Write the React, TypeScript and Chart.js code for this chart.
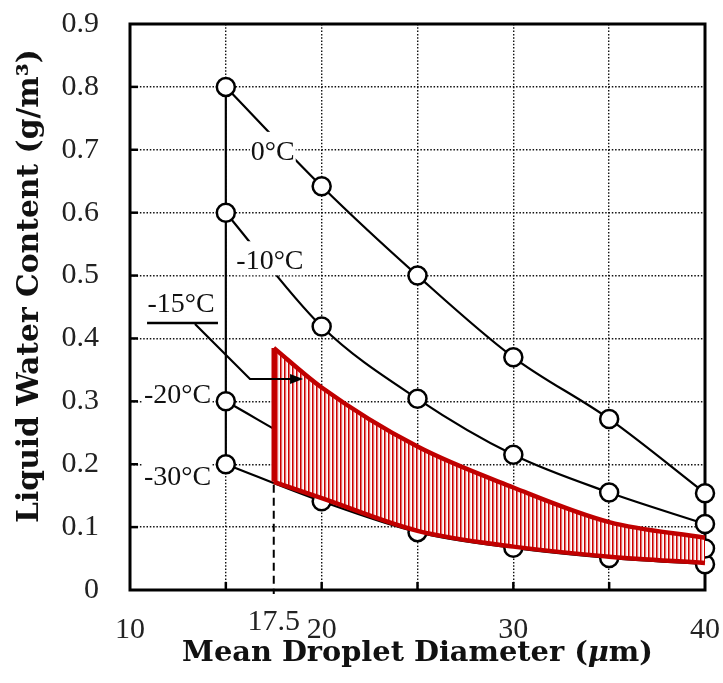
import React, { useEffect, useRef } from 'react';
import { Chart, registerables } from 'chart.js';

Chart.register(...registerables);

// ---- data ----
const diameters = [15, 20, 25, 30, 35, 40];
const lwc0C = [0.8, 0.642, 0.5, 0.37, 0.272, 0.154];
const lwcM10C = [0.6, 0.419, 0.304, 0.215, 0.155, 0.105];
const lwcM20C = [0.3, 0.215, 0.15, 0.108, 0.082, 0.066];
const lwcM30C = [0.2, 0.141, 0.092, 0.067, 0.051, 0.041];

const bandDiameters = [17.5, 20, 25, 30, 35, 40];
const bandUpper = [0.385, 0.322, 0.228, 0.163, 0.108, 0.083];
const bandLower = [0.172, 0.146, 0.094, 0.069, 0.053, 0.043];

const minDiameterMark = 17.5;
const seriesLabels = ['0°C', '-10°C', '-15°C', '-20°C', '-30°C'];
const xTitleParts = ['Mean Droplet Diameter (', 'μ', 'm)'];
const yTitle = 'Liquid Water Content (g/m³)';

const SERIF = "'Liberation Serif', 'Times New Roman', serif";
const BOLD_SERIF = "'DejaVu Serif', serif";
const RED = '#c00000';

const pts = (xs: number[], ys: number[]) => xs.map((x, i) => ({ x, y: ys[i] }));

function makeHatch(): CanvasPattern | string {
  const c = document.createElement('canvas');
  c.width = 4;
  c.height = 4;
  const g = c.getContext('2d');
  if (!g) return 'rgba(200,0,0,0.5)';
  g.fillStyle = '#ffffff';
  g.fillRect(0, 0, 4, 4);
  g.fillStyle = '#cc0000';
  g.fillRect(0, 0, 1, 4);
  g.fillStyle = '#e36b6b';
  g.fillRect(1, 0, 1, 4);
  g.fillStyle = '#f8dada';
  g.fillRect(2, 0, 1, 4);
  return g.createPattern(c, 'repeat') || 'rgba(200,0,0,0.5)';
}

function boxedText(ctx: CanvasRenderingContext2D, text: string, cx: number, base: number, padTop: number, padBottom: number) {
  const w = ctx.measureText(text).width;
  ctx.fillStyle = '#ffffff';
  ctx.fillRect(cx - w / 2 - 1, base - padTop, w + 2, padTop + padBottom);
  ctx.fillStyle = '#111111';
  ctx.fillText(text, cx, base);
}

const zeroPadding = (s: any) => {
  s.paddingTop = 0;
  s.paddingBottom = 0;
  s.paddingLeft = 0;
  s.paddingRight = 0;
};

const decorPlugin = {
  id: 'decor',
  beforeDatasetsDraw(chart: any) {
    const { ctx, chartArea: a, scales } = chart;
    const x = scales.x;
    const y = scales.y;
    ctx.save();
    ctx.strokeStyle = '#000';
    ctx.lineWidth = 2.5;
    x.ticks.forEach((t: any) => {
      if (t.value <= x.min || t.value >= x.max) return;
      const px = x.getPixelForValue(t.value);
      ctx.beginPath();
      ctx.moveTo(px, a.bottom);
      ctx.lineTo(px, a.bottom - 8);
      ctx.stroke();
    });
    y.ticks.forEach((t: any) => {
      if (t.value <= y.min + 1e-9 || t.value >= y.max - 1e-9) return;
      const py = y.getPixelForValue(t.value);
      ctx.beginPath();
      ctx.moveTo(a.left, py);
      ctx.lineTo(a.left + 8, py);
      ctx.stroke();
    });
    ctx.lineWidth = 3;
    ctx.strokeRect(a.left, a.top, a.right - a.left, a.bottom - a.top);
    ctx.restore();
  },
  afterDatasetsDraw(chart: any) {
    const { ctx, chartArea: a, scales } = chart;
    const x = scales.x;
    const y = scales.y;
    const X = (v: number) => x.getPixelForValue(v);
    const Y = (v: number) => y.getPixelForValue(v);
    ctx.save();

    // dashed marker at minimum diameter
    ctx.strokeStyle = '#000';
    ctx.lineWidth = 2;
    ctx.setLineDash([8, 5]);
    ctx.beginPath();
    ctx.moveTo(X(minDiameterMark), Y(bandLower[0]) + 3);
    ctx.lineTo(X(minDiameterMark), a.bottom + 4);
    ctx.stroke();
    ctx.setLineDash([]);

    // extra tick label 17.5
    ctx.font = `30px ${SERIF}`;
    ctx.textAlign = 'center';
    ctx.textBaseline = 'alphabetic';
    ctx.fillStyle = '#222';
    ctx.fillText(String(minDiameterMark), X(minDiameterMark), a.bottom + 40);

    // temperature labels
    ctx.font = `28px ${SERIF}`;
    boxedText(ctx, seriesLabels[0], X(17.45), Y(0.684), 28, 7);
    boxedText(ctx, seriesLabels[1], X(17.3), Y(0.51), 28, 6);
    boxedText(ctx, seriesLabels[2], X(12.66), Y(0.442), 22, 3);
    boxedText(ctx, seriesLabels[3], X(12.48), Y(0.298), 22, 4);
    boxedText(ctx, seriesLabels[4], X(12.48), Y(0.167), 22, 4);

    // -15°C underline, leader and arrow
    ctx.strokeStyle = '#000';
    ctx.fillStyle = '#000';
    ctx.lineWidth = 2.5;
    ctx.beginPath();
    ctx.moveTo(X(10.89), Y(0.4245));
    ctx.lineTo(X(14.59), Y(0.4245));
    ctx.stroke();
    ctx.lineWidth = 2.2;
    const ax = X(19.03);
    const ay = Y(0.3355);
    ctx.beginPath();
    ctx.moveTo(X(13.39), Y(0.423));
    ctx.lineTo(X(16.26), ay);
    ctx.lineTo(ax - 10, ay);
    ctx.stroke();
    ctx.beginPath();
    ctx.moveTo(ax, ay);
    ctx.lineTo(ax - 13, ay - 5);
    ctx.lineTo(ax - 13, ay + 5);
    ctx.closePath();
    ctx.fill();

    // axis titles
    ctx.fillStyle = '#111';
    const fontFor = (size: number, italic = false) => `${italic ? 'italic ' : ''}bold ${size}px ${BOLD_SERIF}`;
    const measureParts = (size: number) => xTitleParts.map((p, i) => {
      ctx.font = fontFor(size, i === 1);
      return ctx.measureText(p).width;
    });
    const base = 20;
    const w0 = measureParts(base).reduce((s, v) => s + v, 0);
    const xs = base * 471 / w0;
    const widths = measureParts(xs);
    const total = widths.reduce((s, v) => s + v, 0);
    let cx = 417.5 - total / 2;
    ctx.textAlign = 'left';
    ctx.textBaseline = 'alphabetic';
    xTitleParts.forEach((p, i) => {
      ctx.font = fontFor(xs, i === 1);
      ctx.fillText(p, cx, 661);
      cx += widths[i];
    });

    ctx.font = fontFor(base);
    const wy = ctx.measureText(yTitle).width;
    const ys = base * 474 / wy;
    ctx.font = fontFor(ys);
    ctx.translate(37.5, 286);
    ctx.rotate(-Math.PI / 2);
    ctx.textAlign = 'center';
    ctx.fillText(yTitle, 0, 0);

    ctx.restore();
  },
};

export default function App() {
  const ref = useRef<HTMLCanvasElement | null>(null);

  useEffect(() => {
    if (!ref.current) return;
    const hatch = makeHatch();
    const blackLine = (data: { x: number; y: number }[]) => ({
      data,
      borderColor: '#000',
      borderWidth: 2.2,
      cubicInterpolationMode: 'monotone' as const,
      pointRadius: 9,
      pointBackgroundColor: '#fff',
      pointBorderColor: '#000',
      pointBorderWidth: 2.5,
      fill: false,
      clip: false as const,
      order: 2,
    });
    const redLine = {
      borderColor: RED,
      borderWidth: 4.5,
      pointRadius: 0,
      clip: false as const,
      borderJoinStyle: 'miter' as const,
    };
    const chart = new Chart(ref.current, {
      type: 'line',
      data: {
        datasets: [
          { label: seriesLabels[0], ...blackLine(pts(diameters, lwc0C)) },
          { label: seriesLabels[1], ...blackLine(pts(diameters, lwcM10C)) },
          { label: seriesLabels[3], ...blackLine(pts(diameters, lwcM20C)) },
          { label: seriesLabels[4], ...blackLine(pts(diameters, lwcM30C)) },
          {
            label: 'range',
            data: [{ x: diameters[0], y: lwcM30C[0] }, { x: diameters[0], y: lwc0C[0] }],
            borderColor: '#000',
            borderWidth: 2.2,
            pointRadius: 0,
            fill: false,
            order: 3,
          },
          {
            label: seriesLabels[2] + ' upper',
            data: pts(bandDiameters, bandUpper),
            ...redLine,
            cubicInterpolationMode: 'monotone',
            backgroundColor: hatch as any,
            fill: '+1',
            order: 1,
          },
          {
            label: seriesLabels[2] + ' lower',
            data: pts(bandDiameters, bandLower),
            ...redLine,
            cubicInterpolationMode: 'monotone',
            fill: false,
            order: 0,
          },
          {
            label: seriesLabels[2] + ' edge',
            data: [{ x: bandDiameters[0], y: bandLower[0] }, { x: bandDiameters[0], y: bandUpper[0] }],
            ...redLine,
            fill: false,
            order: 0,
          },
        ],
      },
      options: {
        responsive: false,
        animation: false,
        devicePixelRatio: 1,
        layout: { padding: { top: 24, right: 18, left: 0, bottom: 0 } },
        plugins: {
          legend: { display: false },
          tooltip: { enabled: false },
        },
        scales: {
          x: {
            type: 'linear',
            min: 10,
            max: 40,
            afterFit: (s: any) => { s.height = 93; zeroPadding(s); },
            ticks: {
              stepSize: 5,
              autoSkip: false,
              maxRotation: 0,
              callback: (v: any) => (Number(v) % 10 === 0 ? String(v) : ''),
              font: { family: SERIF, size: 30 },
              color: '#222',
              padding: 22,
            },
            grid: { color: '#111', lineWidth: 1.4, drawTicks: false },
            border: { display: false, dash: [1.5, 1.8] },
          },
          y: {
            type: 'linear',
            min: 0,
            max: 0.9,
            afterFit: (s: any) => { s.width = 130; zeroPadding(s); },
            ticks: {
              stepSize: 0.1,
              callback: (v: any) => (Number(v) === 0 ? '0' : Number(v).toFixed(1)),
              font: { family: SERIF, size: 30 },
              color: '#222',
              padding: 31,
            },
            grid: { color: '#111', lineWidth: 1.4, drawTicks: false },
            border: { display: false, dash: [1.5, 1.8] },
          },
        },
      },
      plugins: [decorPlugin],
    } as any);
    return () => chart.destroy();
  }, []);

  return (
    <div style={{ position: 'fixed', left: 0, top: 0, width: 723, height: 683, background: '#fff' }}>
      <canvas ref={ref} width={723} height={683} style={{ display: 'block' }} />
    </div>
  );
}
